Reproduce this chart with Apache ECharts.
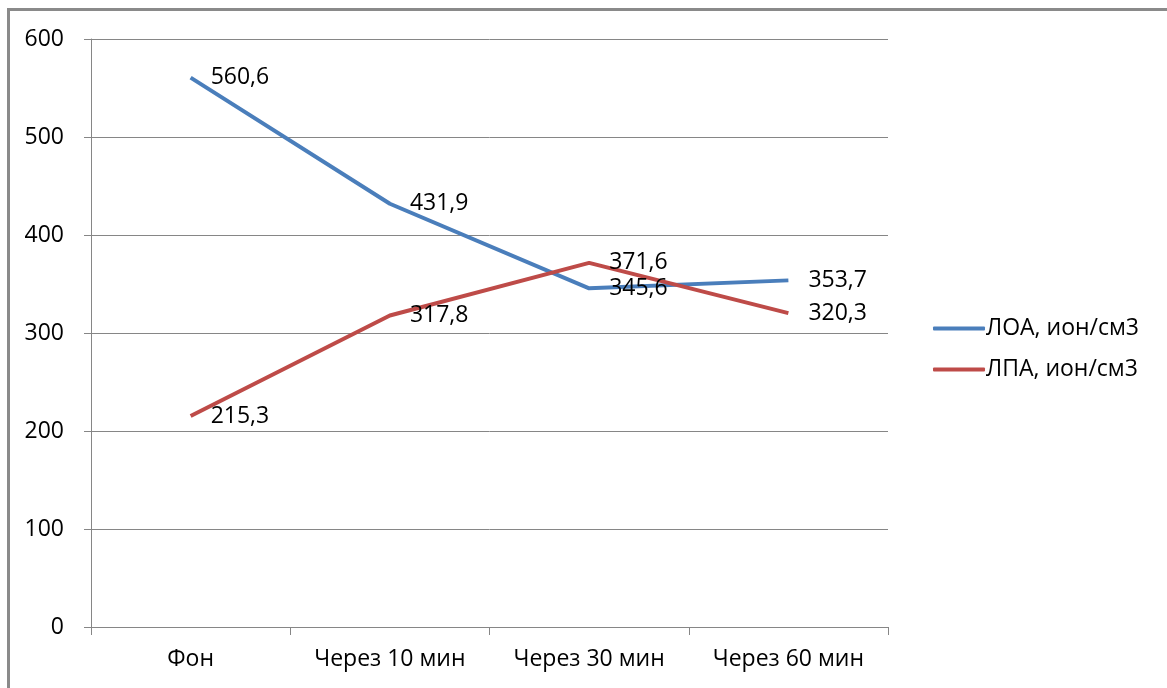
<!DOCTYPE html>
<html>
<head>
<meta charset="utf-8">
<script src="https://cdn.jsdelivr.net/npm/echarts@6/dist/echarts.min.js"></script>
<style>
  html, body { margin: 0; padding: 0; background: #fff; }
  #frame { position: absolute; left: 7px; top: 8px; width: 1180px; height: 700px;
           border-left: 3px solid #8a8a8a; border-top: 3px solid #8a8a8a; box-sizing: border-box; }
  #chart { position: absolute; left: 0; top: 0; width: 1167px; height: 688px; }
</style>
</head>
<body>
<div id="frame"></div>
<div id="chart"></div>
<script>
// Ion concentration readings (ions per cm³) over time
const categories = ['Фон', 'Через 10 мин', 'Через 30 мин', 'Через 60 мин'];
const loaValues = [560.6, 431.9, 345.6, 353.7];
const lpaValues = [215.3, 317.8, 371.6, 320.3];
const seriesNames = ['ЛОА, ион/см3', 'ЛПА, ион/см3'];

const font = '"Open Sans", "Liberation Sans", sans-serif';
const axisGray = '#868686';

const chart = echarts.init(document.getElementById('chart'), null, { renderer: 'canvas' });

function lineSeries(name, data, color) {
  return {
    name: name,
    type: 'line',
    data: data,
    symbol: 'circle',
    symbolSize: 0,
    showSymbol: true,
    lineStyle: { color: color, width: 4 },
    itemStyle: { color: color },
    label: {
      show: true,
      position: 'right',
      distance: 20,
      color: '#000',
      fontFamily: font,
      fontSize: 23,
      formatter: p => String(p.value).replace('.', ',')
    },
    animation: false
  };
}

chart.setOption({
  backgroundColor: 'transparent',
  animation: false,
  grid: { left: 91, right: 279, top: 39, bottom: 61, containLabel: false },
  legend: {
    orient: 'vertical',
    left: 928,
    top: 312,
    itemGap: 18,
    itemWidth: 52,
    itemHeight: 4,
    icon: 'roundRect',
    textStyle: { fontFamily: font, fontSize: 23, color: '#000', padding: [0, 0, 0, -4] },
    data: seriesNames
  },
  xAxis: {
    type: 'category',
    data: categories,
    boundaryGap: true,
    axisLine: { lineStyle: { color: axisGray, width: 1 } },
    axisTick: { show: true, length: 8, interval: 0, alignWithLabel: false, lineStyle: { color: axisGray } },
    axisLabel: { color: '#000', fontFamily: font, fontSize: 23, margin: 21, interval: 0 },
    splitLine: { show: false }
  },
  yAxis: {
    type: 'value',
    min: 0,
    max: 600,
    interval: 100,
    axisLine: { show: true, lineStyle: { color: axisGray, width: 1 } },
    axisTick: { show: true, length: 7, lineStyle: { color: axisGray } },
    axisLabel: { color: '#000', fontFamily: font, fontSize: 23, margin: 27 },
    splitLine: { show: true, lineStyle: { color: axisGray, width: 1 } }
  },
  series: [
    lineSeries(seriesNames[0], loaValues, '#4a7ebb'),
    lineSeries(seriesNames[1], lpaValues, '#be4b48')
  ]
});
</script>
</body>
</html>
